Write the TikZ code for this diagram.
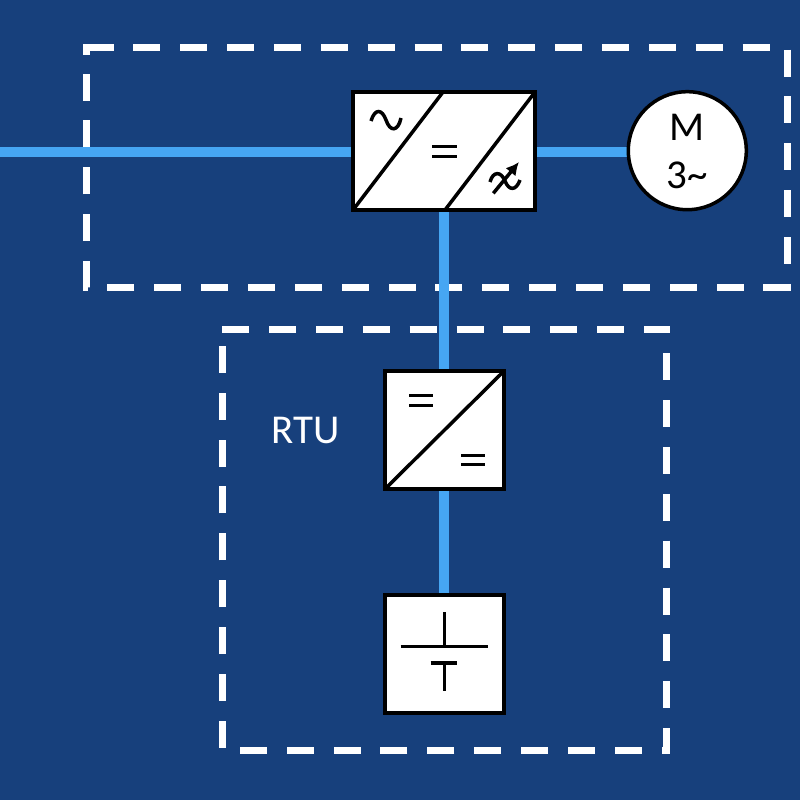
\documentclass[tikz,border=0pt]{standalone}
\usepackage{fontspec}
\setmainfont{Carlito}
\usetikzlibrary{arrows.meta,backgrounds}
\definecolor{navybg}{RGB}{23,64,124}
\definecolor{linkblue}{RGB}{70,166,243}
\tikzset{
  unitbox/.style={draw=black,fill=white,line width=3.5pt,rectangle,inner sep=0pt,outer sep=0pt},
  motorshape/.style={draw=black,fill=white,line width=3.5pt,circle,inner sep=0pt,outer sep=0pt,minimum size=118pt},
  zone/.style={draw=white,line width=7pt,miter limit=10,dash pattern=on 27pt off 19.86pt},
  zonecorner/.style={draw=white,line width=7pt,miter limit=10},
  link/.style={draw=linkblue,line width=10pt},
  glyph/.style={draw=black,line width=3.5pt},
  caption/.style={inner sep=0pt,font=\fontsize{41}{41}\selectfont},
}
\begin{document}
\begin{tikzpicture}[x=1pt,y=-1pt]
\useasboundingbox (0,0) rectangle (800,800);
% nodes
\node[unitbox,minimum width=182pt,minimum height=118pt] (drive) at (444,151) {};
\node[motorshape] (motor) at (687.3,150.7) {};
\node[unitbox,minimum width=119pt,minimum height=118pt] (conv) at (444.5,430) {};
\node[unitbox,minimum width=119pt,minimum height=118pt] (batt) at (444.5,654) {};
\node[caption,text=black] (mlabel) at (687,127) {M};
\node[caption,text=black] (plabel) at (687.5,175.5) {3\textasciitilde};
\node[caption,text=white] (rtu) at (305.5,430) {RTU};
\coordinate (grid) at (0,152.3);
\coordinate (zoneA) at (86.5,47.5);
\coordinate (zoneAb) at (787.3,287);
\coordinate (zoneAl) at (86.5,55);
\coordinate (zoneAt) at (100,47.5);
\coordinate (zoneB) at (222.3,329);
\coordinate (zoneBb) at (666.7,750);
% background, zones, links
\begin{scope}[on background layer]
\fill[navybg] (0,0) rectangle (800,800);
\draw[zone] (zoneA) -- (zoneA -| zoneAb) -- (zoneAb) -- (zoneAb -| zoneA) -- cycle;
\draw[zonecorner] (zoneAl) -- (zoneA) -- (zoneAt);
\draw[zone] (zoneB) -- (zoneB -| zoneBb) -- (zoneBb) -- (zoneBb -| zoneB) -- cycle;
\draw[link] (grid) -- (grid -| drive.west);
\draw[link] (grid -| drive.east) -- (grid -| motor.west);
\draw[link] (drive.south) -- (conv.north -| drive.south);
\draw[link] (conv.south -| drive.south) -- (batt.north -| drive.south);
\end{scope}
% drive symbols
\draw[glyph] (drive.south west) -- (443,92);
\draw[glyph] (445,210) -- (drive.north east);
\draw[glyph] (371,121) .. controls (375,108) and (382,109) .. (386,120) .. controls (390,132) and (398,132) .. (401,118);
\draw[glyph] (432.3,146.5) -- (456.7,146.5) (432.3,156.5) -- (456.7,156.5);
\draw[glyph] (490,182) .. controls (493,171) and (501,171) .. (505,181) .. controls (509,191) and (516,191) .. (520,180);
\draw[glyph,-{Latex[length=13pt,width=13pt]}] (493.3,193.3) -- (519,162);
% converter symbols
\draw[glyph] (conv.south west) -- (conv.north east);
\draw[glyph] (409,395.3) -- (433,395.3) (409,405.3) -- (433,405.3);
\draw[glyph] (461,455.5) -- (485,455.5) (461,464.5) -- (485,464.5);
% battery symbols
\draw[glyph] (444.3,612) -- (444.3,647) (400.7,646.7) -- (487.7,646.7);
\draw[glyph] (430.7,663) -- (457.3,663) (444.3,663) -- (444.3,690.7);
\end{tikzpicture}
\end{document}
